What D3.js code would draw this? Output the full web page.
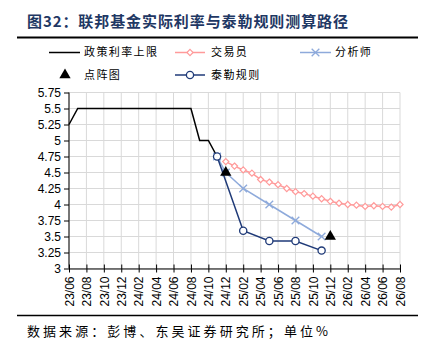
<!DOCTYPE html>
<html>
<head>
<meta charset="utf-8">
<script src="https://cdn.jsdelivr.net/npm/d3@7"></script>
<style>
  body { margin: 0; background: #fff; }
  svg { display: block; }
</style>
</head>
<body>
<div id="chart"></div>
<script>
var months = ["23/06","23/07","23/08","23/09","23/10","23/11","23/12",
              "24/01","24/02","24/03","24/04","24/05","24/06","24/07","24/08","24/09","24/10","24/11","24/12",
              "25/01","25/02","25/03","25/04","25/05","25/06","25/07","25/08","25/09","25/10","25/11","25/12",
              "26/01","26/02","26/03","26/04","26/05","26/06","26/07","26/08"];

var yTicks = [3, 3.25, 3.5, 3.75, 4, 4.25, 4.5, 4.75, 5, 5.25, 5.5, 5.75];

// 政策利率上限 (23/06 - 24/11)
var policyMonths = months.slice(0, 18);
var policyRate = [5.25, 5.5, 5.5, 5.5, 5.5, 5.5, 5.5, 5.5, 5.5, 5.5, 5.5, 5.5, 5.5, 5.5, 5.5, 5.0, 5.0, 4.75];

// 交易员 (24/12 - 26/08)
var traderMonths = months.slice(18);
var trader = [4.67, 4.60, 4.54, 4.49, 4.39, 4.35, 4.31, 4.25, 4.20, 4.17, 4.13, 4.09,
              4.05, 4.02, 4.00, 3.99, 3.97, 3.98, 3.97, 3.96, 4.00];

// 分析师
var analystMonths = ["24/11", "24/12", "25/02", "25/05", "25/08", "25/11"];
var analyst = [4.75, 4.5, 4.25, 4.0, 3.75, 3.5];

// 泰勒规则
var taylorMonths = ["24/11", "25/02", "25/05", "25/08", "25/11"];
var taylor = [4.75, 3.59, 3.43, 3.43, 3.28];

// 点阵图
var dotMonths = ["24/12", "25/12"];
var dotPlot = [4.5, 3.5];

var w = 433, h = 361;
var plotLeft = 69, plotRight = 400, plotTop = 92.5, plotBottom = 268.5;

var cjk = "'Noto Sans CJK SC', sans-serif";
var num = "'Liberation Sans', Arial, sans-serif";

var cPolicy = "#000000";
var cTrader = "#ff9a9a";
var cAnalyst = "#8eaadb";
var cTaylor = "#1f3a78";

var svg = d3.select("#chart")
            .append("svg")
            .attr("width", w)
            .attr("height", h);

var xScale = d3.scalePoint()
               .domain(months)
               .range([plotLeft, plotRight]);

var yScale = d3.scaleLinear()
               .domain([3, 5.75])
               .range([plotBottom, plotTop]);

// title
svg.append("text")
   .attr("x", 27)
   .attr("y", 27)
   .attr("textLength", 321)
   .attr("lengthAdjust", "spacing")
   .style("font-family", cjk)
   .style("font-size", "15px")
   .style("font-weight", "bold")
   .attr("fill", "#1f3864")
   .text("图32：联邦基金实际利率与泰勒规则测算路径");

svg.append("line")
   .attr("x1", 17).attr("x2", 418)
   .attr("y1", 37.5).attr("y2", 37.5)
   .attr("stroke", "#000")
   .attr("stroke-width", 2);

// grid
svg.append("g")
   .selectAll("line")
   .data(yTicks)
   .enter()
   .append("line")
   .attr("x1", plotLeft).attr("x2", plotRight)
   .attr("y1", function(d) { return yScale(d); })
   .attr("y2", function(d) { return yScale(d); })
   .attr("stroke", "#d9d9d9")
   .attr("stroke-width", 1);

var xTickMonths = months.filter(function(d, i) { return i % 2 === 0; });

svg.append("g")
   .selectAll("line")
   .data(xTickMonths)
   .enter()
   .append("line")
   .attr("x1", function(d) { return xScale(d); })
   .attr("x2", function(d) { return xScale(d); })
   .attr("y1", plotTop).attr("y2", plotBottom)
   .attr("stroke", "#d9d9d9")
   .attr("stroke-width", 1);

// y axis
var yAxis = d3.axisLeft(yScale)
              .tickValues(yTicks)
              .tickSize(5)
              .tickPadding(3)
              .tickFormat(function(d) { return String(d); });

svg.append("g")
   .attr("transform", "translate(" + plotLeft + ",0)")
   .call(yAxis)
   .call(function(g) {
       g.select(".domain").attr("stroke", "#000").attr("d", "M0," + plotTop + "V" + plotBottom);
       g.selectAll(".tick line").attr("stroke", "#000");
       g.selectAll("text")
        .style("font-family", num)
        .style("font-size", "12px")
        .attr("fill", "#000");
   });

// x axis
var xAxis = d3.axisBottom(xScale)
              .tickValues(xTickMonths)
              .tickSizeInner(4)
              .tickSizeOuter(0);

svg.append("g")
   .attr("transform", "translate(0," + plotBottom + ")")
   .call(xAxis)
   .call(function(g) {
       g.select(".domain").attr("stroke", "#000");
       g.selectAll(".tick line").attr("stroke", "#000").attr("y1", -4).attr("y2", 4);
       g.selectAll("text")
        .attr("transform", "rotate(-90)")
        .attr("x", -8)
        .attr("y", 0)
        .attr("dy", "0.35em")
        .attr("text-anchor", "end")
        .style("font-family", num)
        .style("font-size", "12px")
        .attr("fill", "#000");
   });

function series(ms, vals) {
    return ms.map(function(m, i) { return { m: m, v: vals[i] }; });
}

var line = d3.line()
             .x(function(d) { return xScale(d.m); })
             .y(function(d) { return yScale(d.v); });

var policyData = series(policyMonths, policyRate);
var traderData = series(traderMonths, trader);
var analystData = series(analystMonths, analyst);
var taylorData = series(taylorMonths, taylor);
var dotData = series(dotMonths, dotPlot);

svg.append("path")
   .datum(policyData)
   .attr("d", line)
   .attr("fill", "none")
   .attr("stroke", cPolicy)
   .attr("stroke-width", 1.5);

// trader
svg.append("path")
   .datum(traderData)
   .attr("d", line)
   .attr("fill", "none")
   .attr("stroke", cTrader)
   .attr("stroke-width", 1.5);

var diamond = d3.symbol().type(d3.symbolDiamond2).size(24);

svg.append("g")
   .selectAll("path")
   .data(traderData)
   .enter()
   .append("path")
   .attr("d", diamond)
   .attr("transform", function(d) { return "translate(" + xScale(d.m) + "," + yScale(d.v) + ")"; })
   .attr("fill", "#fff")
   .attr("stroke", cTrader)
   .attr("stroke-width", 1.2);

// analyst
svg.append("path")
   .datum(analystData)
   .attr("d", line)
   .attr("fill", "none")
   .attr("stroke", cAnalyst)
   .attr("stroke-width", 1.5);

var cross = d3.symbol().type(d3.symbolX).size(40);

svg.append("g")
   .selectAll("path")
   .data(analystData)
   .enter()
   .append("path")
   .attr("d", cross)
   .attr("transform", function(d) { return "translate(" + xScale(d.m) + "," + yScale(d.v) + ")"; })
   .attr("fill", "none")
   .attr("stroke", cAnalyst)
   .attr("stroke-width", 1.3);

// taylor
svg.append("path")
   .datum(taylorData)
   .attr("d", line)
   .attr("fill", "none")
   .attr("stroke", cTaylor)
   .attr("stroke-width", 1.5);

svg.append("g")
   .selectAll("circle")
   .data(taylorData)
   .enter()
   .append("circle")
   .attr("cx", function(d) { return xScale(d.m); })
   .attr("cy", function(d) { return yScale(d.v); })
   .attr("r", 3.6)
   .attr("fill", "#fff")
   .attr("stroke", cTaylor)
   .attr("stroke-width", 1.3);

// dot plot
var tri = d3.symbol().type(d3.symbolTriangle).size(55);

svg.append("g")
   .selectAll("path")
   .data(dotData)
   .enter()
   .append("path")
   .attr("d", tri)
   .attr("transform", function(d) { return "translate(" + xScale(d.m) + "," + yScale(d.v) + ")"; })
   .attr("fill", "#000");

// legend
var legend = svg.append("g");
var row1 = 52.5, row2 = 75;

function legendText(x, y, t) {
    legend.append("text")
          .attr("x", x)
          .attr("y", y)
          .attr("dy", "0.36em")
          .style("font-family", cjk)
          .style("font-size", "11px")
          .style("letter-spacing", "1.4px")
          .attr("fill", "#000")
          .text(t);
}

legend.append("line").attr("x1", 49).attr("x2", 80).attr("y1", row1).attr("y2", row1)
      .attr("stroke", cPolicy).attr("stroke-width", 1.5);
legendText(84, row1, "政策利率上限");

legend.append("line").attr("x1", 175).attr("x2", 205).attr("y1", row1).attr("y2", row1)
      .attr("stroke", cTrader).attr("stroke-width", 1.5);
legend.append("path").attr("d", diamond).attr("transform", "translate(190," + row1 + ")")
      .attr("fill", "#fff").attr("stroke", cTrader).attr("stroke-width", 1.2);
legendText(211, row1, "交易员");

legend.append("line").attr("x1", 300).attr("x2", 331).attr("y1", row1).attr("y2", row1)
      .attr("stroke", cAnalyst).attr("stroke-width", 1.5);
legend.append("path").attr("d", cross).attr("transform", "translate(315.5," + row1 + ")")
      .attr("fill", "none").attr("stroke", cAnalyst).attr("stroke-width", 1.3);
legendText(335, row1, "分析师");

legend.append("path").attr("d", tri).attr("transform", "translate(65," + row2 + ")")
      .attr("fill", "#000");
legendText(84, row2, "点阵图");

legend.append("line").attr("x1", 175).attr("x2", 205).attr("y1", row2).attr("y2", row2)
      .attr("stroke", cTaylor).attr("stroke-width", 1.5);
legend.append("circle").attr("cx", 190).attr("cy", row2).attr("r", 3.6)
      .attr("fill", "#fff").attr("stroke", cTaylor).attr("stroke-width", 1.3);
legendText(211, row2, "泰勒规则");

// footer
svg.append("line")
   .attr("x1", 17).attr("x2", 418)
   .attr("y1", 315.5).attr("y2", 315.5)
   .attr("stroke", "#000")
   .attr("stroke-width", 1.5);

svg.append("text")
   .attr("x", 27)
   .attr("y", 336)
   .attr("textLength", 301)
   .attr("lengthAdjust", "spacing")
   .style("font-family", cjk)
   .style("font-size", "13px")
   .attr("fill", "#000")
   .text("数据来源：彭博、东吴证券研究所；单位%");
</script>
</body>
</html>
